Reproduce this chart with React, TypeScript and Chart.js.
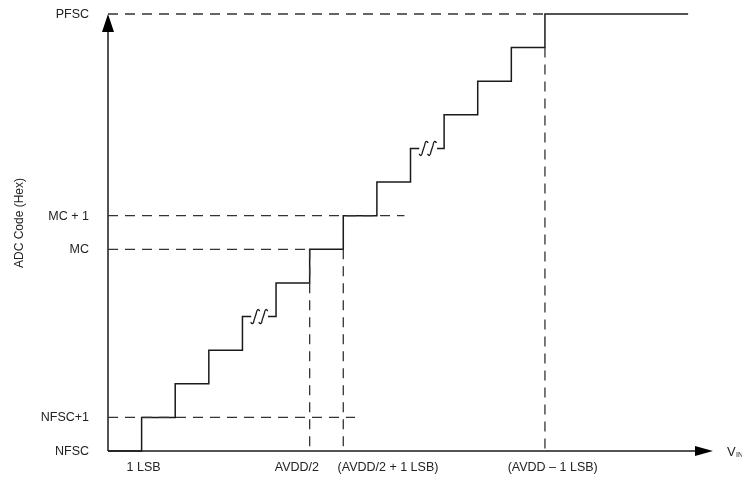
import React, { useEffect, useRef } from "react";
import { Chart, registerables } from "chart.js";

Chart.register(...registerables);

// Staircase transfer function (x in LSB units, y in codes)
const lowerX = [0, 1, 2, 3, 4, 4.26];
const lowerY = [0, 1, 2, 3, 4, 4];
const midX = [4.76, 5, 6, 7, 8, 9, 9.26];
const midY = [4, 5, 6, 7, 8, 9, 9];
const upperX = [9.79, 10, 11, 12, 13, 17.26];
const upperY = [9, 10, 11, 12, 13, 13];

// Dashed guides
const guideHLevels = [13, 7, 6, 1];
const guideHEnds = [13, 8.82, 6, 7.35];
const guideVPositions = [6, 7, 13];
const guideVEnds = [6, 6, 12];

// Axis tick labels
const yTickValues = [0, 1, 6, 7, 13];
const yTickLabels = ["NFSC", "NFSC+1", "MC", "MC + 1", "PFSC"];
const xLabelCenters = [1.06, 5.62, 8.33, 13.23];
const xLabelTexts = ["1 LSB", "AVDD/2", "(AVDD/2 + 1 LSB)", "(AVDD \u2013 1 LSB)"];

// Break symbols on the staircase
const squiggleX = [4.38, 4.62, 9.39, 9.64];
const squiggleY = [4, 4, 9, 9];

const X_MAX = 18;
const Y_MAX = 13;
const FONT = "'Liberation Sans', Arial, sans-serif";
const SOLID = "#1a1a1a";
const DASH = "#333333";

function pts(xs: number[], ys: number[]) {
  return xs.map((x, i) => ({ x, y: ys[i] }));
}

export default function App() {
  const ref = useRef<HTMLCanvasElement | null>(null);

  useEffect(() => {
    if (!ref.current) return;

    const datasets: any[] = [];
    guideHLevels.forEach((lv, i) => {
      datasets.push({
        data: pts([0, guideHEnds[i]], [lv, lv]),
        borderColor: DASH,
        borderWidth: 1.3,
        borderDash: [10, 7],
        pointRadius: 0,
        clip: false,
      });
    });
    guideVPositions.forEach((p, i) => {
      datasets.push({
        data: pts([p, p], [guideVEnds[i], 0]),
        borderColor: DASH,
        borderWidth: 1.3,
        borderDash: [10, 7],
        pointRadius: 0,
        clip: false,
      });
    });
    // axes
    datasets.push({
      data: pts([0, X_MAX - 0.4], [0, 0]),
      borderColor: SOLID,
      borderWidth: 1.5,
      pointRadius: 0,
      clip: false,
    });
    datasets.push({
      data: pts([0, 0], [0, Y_MAX - 0.4]),
      borderColor: SOLID,
      borderWidth: 1.5,
      pointRadius: 0,
      clip: false,
    });
    [pts(lowerX, lowerY), pts(midX, midY), pts(upperX, upperY)].forEach((d) => {
      datasets.push({
        data: d,
        borderColor: SOLID,
        borderWidth: 1.5,
        pointRadius: 0,
        stepped: "before",
        clip: false,
      });
    });

    const annot = {
      id: "annot",
      afterDatasetsDraw(chart: any) {
        const ctx = chart.ctx;
        const xs = chart.scales.x;
        const ys = chart.scales.y;
        const x0 = xs.getPixelForValue(0);
        const y0 = ys.getPixelForValue(0);
        ctx.save();
        // arrows
        ctx.fillStyle = "#000";
        const xt = xs.getPixelForValue(X_MAX);
        ctx.beginPath();
        ctx.moveTo(xt, y0);
        ctx.lineTo(xt - 18, y0 - 5);
        ctx.lineTo(xt - 18, y0 + 5);
        ctx.closePath();
        ctx.fill();
        const yt = ys.getPixelForValue(Y_MAX);
        ctx.beginPath();
        ctx.moveTo(x0, yt);
        ctx.lineTo(x0 - 6, yt + 18);
        ctx.lineTo(x0 + 6, yt + 18);
        ctx.closePath();
        ctx.fill();

        // squiggles
        ctx.strokeStyle = SOLID;
        ctx.lineWidth = 1.3;
        squiggleX.forEach((sx, i) => {
          const cx = xs.getPixelForValue(sx);
          const cy = ys.getPixelForValue(squiggleY[i]);
          ctx.beginPath();
          ctx.moveTo(cx - 4.5, cy + 5.5);
          ctx.quadraticCurveTo(cx - 2, cy + 9.5, cx - 1, cy + 3);
          ctx.lineTo(cx + 1, cy - 3);
          ctx.quadraticCurveTo(cx + 2, cy - 9.5, cx + 4.5, cy - 5.5);
          ctx.stroke();
        });

        // y labels
        ctx.fillStyle = "#222";
        ctx.font = `12.5px ${FONT}`;
        ctx.textAlign = "right";
        ctx.textBaseline = "middle";
        yTickValues.forEach((v, i) => {
          ctx.fillText(yTickLabels[i], x0 - 19, ys.getPixelForValue(v) + 0.5);
        });
        // x labels
        ctx.textAlign = "center";
        xLabelCenters.forEach((v, i) => {
          ctx.fillText(xLabelTexts[i], xs.getPixelForValue(v), y0 + 17);
        });
        // V_IN
        ctx.textAlign = "left";
        ctx.font = `13px ${FONT}`;
        ctx.fillText("V", xt + 14, y0 + 1);
        ctx.font = `7px ${FONT}`;
        ctx.fillText("IN", xt + 23, y0 + 4);
        // y title
        ctx.font = `12px ${FONT}`;
        ctx.translate(20, 223);
        ctx.rotate(-Math.PI / 2);
        ctx.textAlign = "center";
        ctx.fillText("ADC Code (Hex)", 0, 0);
        ctx.restore();
      },
    };

    const chart = new Chart(ref.current, {
      type: "line",
      data: { datasets },
      options: {
        animation: false,
        responsive: false,
        maintainAspectRatio: false,
        layout: { padding: { left: 108, right: 29, top: 14, bottom: 28 } },
        plugins: { legend: { display: false }, tooltip: { enabled: false } },
        scales: {
          x: { type: "linear", min: 0, max: X_MAX, display: false },
          y: { type: "linear", min: 0, max: Y_MAX, display: false },
        },
      },
      plugins: [annot],
    });
    return () => chart.destroy();
  }, []);

  return (
    <div style={{ position: "absolute", left: 0, top: 0, width: 742, height: 479, background: "#fff" }}>
      <canvas ref={ref} width={742} height={479} />
    </div>
  );
}
